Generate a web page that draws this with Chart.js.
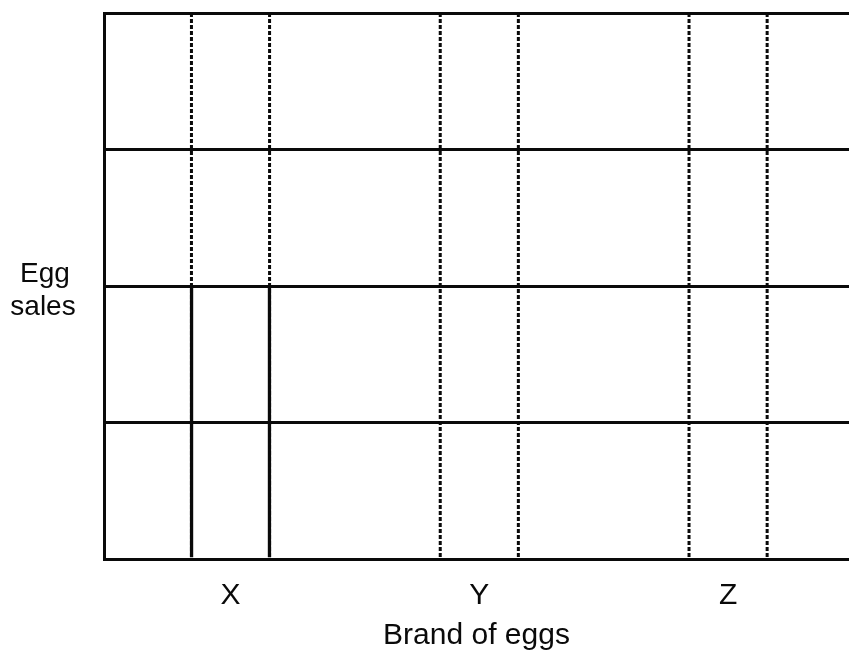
<!DOCTYPE html>
<html>
<head>
<meta charset="utf-8">
<title>Egg sales by brand</title>
<script src="https://cdn.jsdelivr.net/npm/chart.js@4.4.1/dist/chart.umd.min.js"></script>
<style>
  html, body { margin: 0; padding: 0; background: #fff; overflow: hidden; }
  #wrap { width: 849px; height: 651px; }
</style>
</head>
<body>
<div id="wrap"><canvas id="eggChart"></canvas></div>
<script>
// Brands on the x axis and the sales drawn for them
const brands = ['X', 'Y', 'Z'];
const eggSales = [2, null, null];
// dashed guide columns run up to the top of the grid
const guideHeight = [4, 4, 4];
const salesTicks = [0, 1, 2, 3, 4];

const FONT = '"Liberation Sans", Arial, Helvetica, sans-serif';
const INK = '#0a0a0a';

// dashed edges of every column, taken from the guide bars
const dashedGuides = {
    id: 'dashedGuides',
    afterDatasetsDraw(chart) {
        const meta = chart.getDatasetMeta(0);
        const ctx = chart.ctx;
        ctx.save();
        ctx.strokeStyle = INK;
        ctx.lineWidth = 3;
        ctx.setLineDash([4, 2]);
        meta.data.forEach(bar => {
            const p = bar.getProps(['x', 'y', 'base', 'width'], true);
            [p.x - p.width / 2, p.x + p.width / 2].forEach(px => {
                ctx.beginPath();
                ctx.moveTo(px, p.y);
                ctx.lineTo(px, p.base);
                ctx.stroke();
            });
        });
        ctx.restore();
    }
};

// horizontal two-line axis name on the left
const sideLabel = {
    id: 'sideLabel',
    afterDraw(chart) {
        const ctx = chart.ctx;
        const mid = chart.scales.y.getPixelForValue(2);
        ctx.save();
        ctx.font = '28px ' + FONT;
        ctx.fillStyle = INK;
        ctx.textAlign = 'center';
        ctx.textBaseline = 'alphabetic';
        ctx.fillText('Egg', 45, mid - 4);
        ctx.fillText('sales', 43, mid + 29);
        ctx.restore();
    }
};

const ctx = document.getElementById('eggChart').getContext('2d');
new Chart(ctx, {
    type: 'bar',
    data: {
        datasets: [
            {
                label: 'guide',
                data: brands.map((b, i) => ({ x: i, y: guideHeight[i] })),
                backgroundColor: 'rgba(0,0,0,0)',
                borderWidth: 0,
                barPercentage: 0.314
            },
            {
                label: 'Egg sales',
                data: brands.map((b, i) => ({ x: i, y: eggSales[i] })),
                backgroundColor: 'rgba(0,0,0,0)',
                borderColor: INK,
                borderWidth: { left: 3.5, right: 3.5, top: 0, bottom: 0 },
                // a touch wider so the inner border sits on the dashed edge
                barPercentage: 0.328
            }
        ]
    },
    options: {
        responsive: true,
        maintainAspectRatio: false,
        animation: false,
        layout: { padding: { left: 104, top: 13, right: 0, bottom: 0 } },
        plugins: {
            legend: { display: false },
            tooltip: { enabled: false }
        },
        datasets: {
            bar: { grouped: false, categoryPercentage: 1 }
        },
        scales: {
            x: {
                type: 'linear',
                min: -0.5085,
                max: 2.486,
                offset: false,
                grid: { display: false, offset: false, drawTicks: false },
                border: { display: false },
                afterBuildTicks: s => { s.ticks = brands.map((b, i) => ({ value: i })); },
                ticks: {
                    callback: v => brands[v],
                    color: INK,
                    font: { size: 30, family: FONT },
                    padding: 19,
                    maxRotation: 0,
                    autoSkip: false
                },
                title: {
                    display: true,
                    text: 'Brand of eggs',
                    color: INK,
                    font: { size: 30, family: FONT },
                    padding: { top: -15, bottom: -3 }
                }
            },
            y: {
                min: 0,
                max: 4,
                afterBuildTicks: s => { s.ticks = salesTicks.map(v => ({ value: v })); },
                ticks: { display: false },
                grid: { color: INK, lineWidth: 3, drawTicks: false },
                border: { display: true, color: INK, width: 3 }
            }
        }
    },
    plugins: [dashedGuides, sideLabel]
});
</script>
</body>
</html>
